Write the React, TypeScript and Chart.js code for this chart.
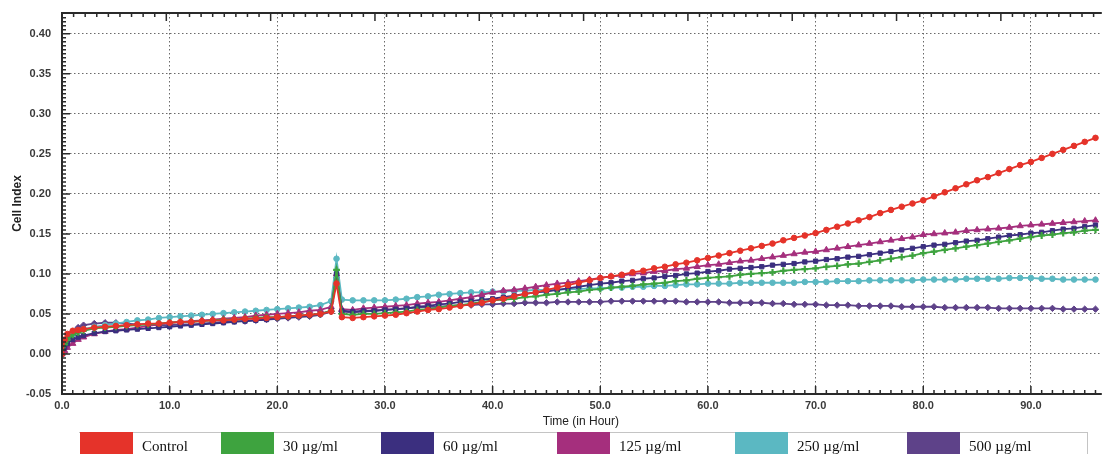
import { useEffect, useRef } from "react";
import { Chart, registerables } from "chart.js";

Chart.register(...registerables);

// ---------- data ----------
const seriesNames = ["Control", "30 µg/ml", "60 µg/ml", "125 µg/ml", "250 µg/ml", "500 µg/ml"];
const seriesColors = ["#e5332a", "#3ea33f", "#3b2f7f", "#a52f7d", "#5bb8c2", "#5e4289"];

const hours = [
  0, 0.25, 0.5, 1, 1.5, 2,
  3, 4, 5, 6, 7, 8, 9, 10, 11, 12,
  13, 14, 15, 16, 17, 18, 19, 20, 21, 22,
  23, 24, 25,
  25.5,
  26, 27, 28, 29, 30, 31, 32, 33, 34, 35,
  36, 37, 38, 39, 40, 41, 42, 43, 44, 45,
  46, 47, 48, 49, 50, 51, 52, 53, 54, 55,
  56, 57, 58, 59, 60, 61, 62, 63, 64, 65,
  66, 67, 68, 69, 70, 71, 72, 73, 74, 75,
  76, 77, 78, 79, 80, 81, 82, 83, 84, 85,
  86, 87, 88, 89, 90, 91, 92, 93, 94, 95,
  96,
];

const control = [
  0, 0.018, 0.025, 0.029, 0.030, 0.031,
  0.033, 0.034, 0.035, 0.036, 0.037, 0.038, 0.038, 0.039, 0.040, 0.040,
  0.041, 0.042, 0.042, 0.043, 0.044, 0.044, 0.045, 0.046, 0.047, 0.048,
  0.049, 0.050, 0.053,
  0.088,
  0.046, 0.045, 0.046, 0.047, 0.048, 0.049, 0.051, 0.053, 0.055, 0.056,
  0.058, 0.060, 0.062, 0.064, 0.067, 0.069, 0.072, 0.075, 0.077, 0.080,
  0.083, 0.086, 0.089, 0.092, 0.095, 0.097, 0.099, 0.102, 0.104, 0.107,
  0.109, 0.112, 0.114, 0.117, 0.120, 0.123, 0.126, 0.129, 0.132, 0.135,
  0.138, 0.142, 0.145, 0.148, 0.151, 0.155, 0.159, 0.163, 0.167, 0.171,
  0.176, 0.180, 0.184, 0.188, 0.192, 0.197, 0.202, 0.207, 0.212, 0.217,
  0.221, 0.226, 0.231, 0.236, 0.240, 0.245, 0.250, 0.255, 0.260, 0.265,
  0.270,
];

const dose30 = [
  0, 0.012, 0.018, 0.024, 0.027, 0.029,
  0.032, 0.033, 0.034, 0.035, 0.036, 0.037, 0.038, 0.039, 0.040, 0.040,
  0.041, 0.042, 0.043, 0.043, 0.044, 0.045, 0.046, 0.046, 0.047, 0.048,
  0.049, 0.050, 0.054,
  0.105,
  0.050, 0.049, 0.050, 0.050, 0.051, 0.052, 0.053, 0.055, 0.056, 0.058,
  0.060, 0.061, 0.063, 0.065, 0.067, 0.068, 0.069, 0.071, 0.072, 0.074,
  0.075, 0.077, 0.078, 0.080, 0.081, 0.083, 0.084, 0.085, 0.087, 0.088,
  0.089, 0.091, 0.092, 0.094, 0.095, 0.096, 0.097, 0.099, 0.100, 0.101,
  0.102, 0.104, 0.105, 0.106, 0.107, 0.109, 0.110, 0.112, 0.113, 0.115,
  0.117, 0.119, 0.121, 0.123, 0.126, 0.128, 0.130, 0.132, 0.134, 0.136,
  0.138, 0.140, 0.142, 0.144, 0.146, 0.148, 0.149, 0.151, 0.152, 0.154,
  0.155,
];

const dose60 = [
  0, 0.008, 0.013, 0.018, 0.021, 0.023,
  0.026, 0.028, 0.029, 0.030, 0.031, 0.032, 0.033, 0.034, 0.035, 0.036,
  0.037, 0.038, 0.039, 0.040, 0.041, 0.042, 0.043, 0.045, 0.046, 0.047,
  0.048, 0.050, 0.054,
  0.100,
  0.054, 0.053, 0.054, 0.054, 0.055, 0.056, 0.057, 0.059, 0.060, 0.062,
  0.063, 0.065, 0.066, 0.068, 0.069, 0.071, 0.073, 0.075, 0.077, 0.078,
  0.080, 0.082, 0.084, 0.086, 0.088, 0.089, 0.091, 0.092, 0.094, 0.095,
  0.097, 0.098, 0.100, 0.101, 0.103, 0.104, 0.106, 0.107, 0.108, 0.109,
  0.111, 0.112, 0.113, 0.115, 0.116, 0.118, 0.119, 0.121, 0.122, 0.124,
  0.126, 0.128, 0.130, 0.132, 0.134, 0.136, 0.137, 0.139, 0.141, 0.142,
  0.144, 0.146, 0.148, 0.149, 0.151, 0.152, 0.154, 0.156, 0.157, 0.159,
  0.161,
];

const dose125 = [
  0, 0.004, 0.008, 0.013, 0.018, 0.021,
  0.025, 0.028, 0.030, 0.031, 0.033, 0.035, 0.037, 0.039, 0.040, 0.041,
  0.042, 0.043, 0.044, 0.045, 0.046, 0.048, 0.049, 0.050, 0.051, 0.052,
  0.054, 0.055, 0.059,
  0.100,
  0.056, 0.055, 0.057, 0.058, 0.059, 0.060, 0.061, 0.063, 0.064, 0.065,
  0.067, 0.069, 0.071, 0.074, 0.077, 0.079, 0.080, 0.082, 0.084, 0.086,
  0.088, 0.089, 0.091, 0.093, 0.095, 0.097, 0.098, 0.100, 0.101, 0.103,
  0.104, 0.106, 0.107, 0.109, 0.111, 0.112, 0.114, 0.116, 0.117, 0.119,
  0.121, 0.123, 0.125, 0.127, 0.128, 0.130, 0.132, 0.134, 0.136, 0.138,
  0.140, 0.142, 0.144, 0.146, 0.149, 0.150, 0.151, 0.152, 0.154, 0.155,
  0.156, 0.157, 0.158, 0.160, 0.161, 0.162, 0.163, 0.164, 0.165, 0.166,
  0.167,
];

const dose250 = [
  0, 0.010, 0.016, 0.024, 0.028, 0.031,
  0.034, 0.036, 0.038, 0.040, 0.042, 0.043, 0.045, 0.046, 0.047, 0.048,
  0.049, 0.050, 0.051, 0.052, 0.053, 0.054, 0.055, 0.056, 0.057, 0.058,
  0.059, 0.061, 0.066,
  0.119,
  0.068, 0.067, 0.067, 0.067, 0.067, 0.068, 0.069, 0.071, 0.072, 0.074,
  0.075, 0.076, 0.077, 0.077, 0.078, 0.078, 0.079, 0.079, 0.080, 0.080,
  0.080, 0.081, 0.081, 0.082, 0.082, 0.083, 0.083, 0.084, 0.084, 0.085,
  0.085, 0.086, 0.087, 0.087, 0.088, 0.088, 0.088, 0.089, 0.089, 0.089,
  0.089, 0.089, 0.089, 0.090, 0.090, 0.090, 0.091, 0.091, 0.091, 0.092,
  0.092, 0.092, 0.092, 0.092, 0.093, 0.093, 0.093, 0.093, 0.094, 0.094,
  0.094, 0.094, 0.095, 0.095, 0.095, 0.094, 0.094, 0.093, 0.093, 0.093,
  0.093,
];

const dose500 = [
  0, 0.012, 0.020, 0.028, 0.033, 0.036,
  0.038, 0.039, 0.039, 0.038, 0.037, 0.037, 0.036, 0.036, 0.037, 0.037,
  0.038, 0.039, 0.040, 0.041, 0.041, 0.042, 0.043, 0.044, 0.045, 0.046,
  0.047, 0.049, 0.053,
  0.095,
  0.053, 0.052, 0.053, 0.054, 0.055, 0.056, 0.057, 0.058, 0.059, 0.059,
  0.060, 0.061, 0.061, 0.062, 0.062, 0.063, 0.063, 0.064, 0.064, 0.064,
  0.065, 0.065, 0.065, 0.065, 0.065, 0.066, 0.066, 0.066, 0.066, 0.066,
  0.066, 0.066, 0.065, 0.065, 0.065, 0.065, 0.064, 0.064, 0.064, 0.064,
  0.063, 0.063, 0.062, 0.062, 0.062, 0.061, 0.061, 0.061, 0.060, 0.060,
  0.060, 0.060, 0.059, 0.059, 0.059, 0.059, 0.058, 0.058, 0.058, 0.058,
  0.058, 0.057, 0.057, 0.057, 0.057, 0.057, 0.057, 0.056, 0.056, 0.056,
  0.056,
];

const seriesValues = [control, dose30, dose60, dose125, dose250, dose500];

// axis settings
const X_MIN = 0;
const X_MAX = 96.4;
const X_STEP = 10;
const Y_MIN = -0.05;
const Y_MAX = 0.426;
const Y_STEP = 0.05;
const Y_MINOR = 0.005;
const TOP_MAJOR_HOURS = 9.69;

// ---------- styles ----------
const pointStyles = ["circle", "cross", "rect", "triangle", "circle", "rectRot"];
const pointRadii = [2.8, 3.4, 3.0, 3.6, 2.8, 3.2];
const SANS = "'Liberation Sans', Arial, sans-serif";
const SERIF = "'Liberation Serif', 'Times New Roman', serif";

const axisFrame = {
  id: "axisFrame",
  afterDatasetsDraw(chart: any) {
    const { ctx, chartArea, scales } = chart;
    const { left, right, top, bottom } = chartArea;
    const x = scales.x;
    const y = scales.y;
    ctx.save();
    ctx.strokeStyle = "#2a2a2a";
    ctx.lineWidth = 2;
    ctx.beginPath();
    ctx.moveTo(left - 1, top);
    ctx.lineTo(right + 2, top);
    ctx.moveTo(left, top - 1);
    ctx.lineTo(left, bottom + 1);
    ctx.moveTo(left - 1, bottom);
    ctx.lineTo(right + 2, bottom);
    ctx.stroke();

    ctx.lineWidth = 1.5;
    ctx.beginPath();
    // left axis ticks (inside)
    const kMin = Math.round(Y_MIN / Y_MINOR);
    const kMax = Math.floor(Y_MAX / Y_MINOR);
    for (let k = kMin; k <= kMax; k++) {
      const py = y.getPixelForValue(k * Y_MINOR);
      if (py < top + 2 || py > bottom - 1) continue;
      const len = k % 10 === 0 ? 8 : 4;
      ctx.moveTo(left, py);
      ctx.lineTo(left + len, py);
    }
    // bottom axis ticks (inside)
    for (let h = 0; h <= Math.ceil(X_MAX); h++) {
      const px = x.getPixelForValue(h);
      if (px > right) break;
      const len = h % 10 === 0 ? 8 : 4;
      ctx.moveTo(px, bottom);
      ctx.lineTo(px, bottom - len);
    }
    // top axis ticks (inside)
    const topMinor = TOP_MAJOR_HOURS / 9;
    for (let k = 0; k < 200; k++) {
      const px = x.getPixelForValue(k * topMinor);
      if (px > right) break;
      const len = k % 9 === 0 ? 8 : 4;
      ctx.moveTo(px, top);
      ctx.lineTo(px, top + len);
    }
    ctx.stroke();
    ctx.restore();
  },
};

const legendBlockLeft = [80, 221, 381, 557, 735, 907];

export default function App() {
  const canvasRef = useRef<HTMLCanvasElement | null>(null);

  useEffect(() => {
    if (!canvasRef.current) return;
    const datasets = seriesNames.map((name, i) => ({
      label: name,
      data: hours.map((h, j) => ({ x: h, y: seriesValues[i][j] })),
      borderColor: seriesColors[i],
      backgroundColor: seriesColors[i],
      borderWidth: 1.8,
      pointStyle: pointStyles[i] as any,
      pointRadius: pointRadii[i],
      pointBorderWidth: pointStyles[i] === "cross" ? 2.2 : 1,
      pointBorderColor: seriesColors[i],
      pointBackgroundColor: seriesColors[i],
      tension: 0,
    }));

    const tickFont = { family: SANS, size: 11, weight: "bold" as const };

    const chart = new Chart(canvasRef.current, {
      type: "line",
      data: { datasets },
      plugins: [axisFrame],
      options: {
        responsive: false,
        animation: false,
        layout: { padding: { top: 13, right: 0, bottom: 0, left: 0 } },
        plugins: {
          legend: { display: false },
          tooltip: { enabled: false },
        },
        scales: {
          x: {
            type: "linear",
            min: X_MIN,
            max: X_MAX,
            afterFit: (s: any) => {
              s.height = 60;
              s.paddingLeft = 0;
              s.paddingRight = 0;
            },
            ticks: {
              stepSize: X_STEP,
              includeBounds: false,
              autoSkip: false,
              maxRotation: 0,
              padding: 5,
              color: "#3a3a3a",
              font: tickFont,
              callback: (v: any) => Number(v).toFixed(1),
            },
            grid: { color: "#6a6a6a", lineWidth: 1, drawTicks: false },
            border: { display: false, dash: [1.5, 2.5] },
            title: {
              display: true,
              text: "Time (in Hour)",
              color: "#222",
              font: { family: SANS, size: 12 },
              padding: { top: 0, bottom: 25 },
            },
          },
          y: {
            type: "linear",
            min: Y_MIN,
            max: Y_MAX,
            afterFit: (s: any) => {
              s.width = 62;
              s.paddingTop = 0;
              s.paddingBottom = 0;
            },
            ticks: {
              stepSize: Y_STEP,
              includeBounds: false,
              padding: 11,
              color: "#3a3a3a",
              font: tickFont,
              callback: (v: any) => Number(v).toFixed(2),
            },
            grid: { color: "#6a6a6a", lineWidth: 1, drawTicks: false },
            border: { display: false, dash: [1.5, 2.5] },
            title: {
              display: true,
              text: "Cell Index",
              color: "#222",
              font: { family: SANS, size: 12, weight: "bold" },
              padding: { top: 10, bottom: 0 },
            },
          },
        },
      },
    });
    return () => chart.destroy();
  }, []);

  return (
    <div
      style={{
        position: "absolute",
        left: 0,
        top: 0,
        width: 1106,
        height: 454,
        overflow: "hidden",
        background: "#fff",
      }}
    >
      <canvas ref={canvasRef} width={1106} height={454} style={{ width: 1106, height: 454, display: "block" }} />
      <div
        style={{
          position: "absolute",
          left: 79,
          top: 432,
          width: 1009,
          height: 30,
          borderTop: "1px solid #c4c4c4",
          borderRight: "1px solid #c4c4c4",
          boxSizing: "border-box",
        }}
      >
        {seriesNames.map((name, i) => (
          <div key={name}>
            <div
              style={{
                position: "absolute",
                left: legendBlockLeft[i] - 79,
                top: -1,
                width: 53,
                height: 31,
                background: seriesColors[i],
              }}
            />
            <div
              style={{
                position: "absolute",
                left: legendBlockLeft[i] - 79 + 62,
                top: 0,
                height: 26,
                lineHeight: "26px",
                fontFamily: SERIF,
                fontSize: 15,
                color: "#111",
                whiteSpace: "nowrap",
              }}
            >
              {name}
            </div>
          </div>
        ))}
      </div>
    </div>
  );
}
